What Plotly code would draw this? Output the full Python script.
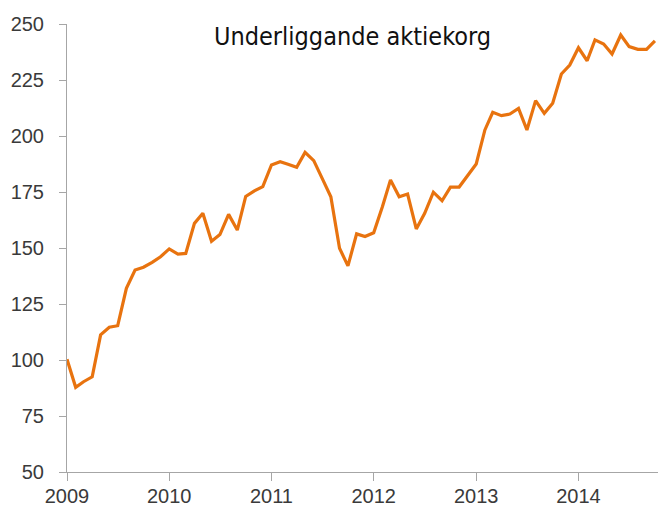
import plotly.graph_objects as go
import pandas as pd

# Monthly index values, Jan 2009 - Oct 2014
values = [
    100.3, 87.8, 90.3, 92.5, 111.2, 114.6, 115.3, 132.0, 140.2, 141.4, 143.6, 146.1,   # 2009
    149.6, 147.3, 147.6, 161.0, 165.5, 153.0, 156.0, 165.0, 158.0, 173.0, 175.5, 177.4,  # 2010
    187.1, 188.5, 187.4, 186.0, 192.7, 189.0, 181.1, 172.9, 149.9, 142.0, 156.3, 155.1,  # 2011
    156.8, 168.4, 180.4, 172.9, 174.1, 158.5, 165.5, 174.9, 171.1, 177.2, 177.2, 182.1,  # 2012
    187.5, 202.7, 210.6, 209.1, 209.8, 212.3, 202.7, 215.8, 210.1, 214.6, 227.7, 231.7,  # 2013
    239.4, 233.6, 242.9, 241.1, 236.6, 245.1, 239.9, 238.7, 238.7, 242.5,                # 2014
]
dates = pd.date_range("2009-01-01", periods=len(values), freq="MS")

title_text = "Underliggande aktiekorg"
y_ticks = [50, 75, 100, 125, 150, 175, 200, 225, 250]
x_tick_years = ["2009", "2010", "2011", "2012", "2013", "2014"]

fig = go.Figure()
fig.add_trace(go.Scatter(
    x=dates, y=values, mode="lines",
    line=dict(color="#E8730F", width=3.2),
    hoverinfo="skip", cliponaxis=False,
))

axis_color = "#A6A6A6"
tick_font = dict(family="Liberation Sans", size=20, color="#3A3A3A")

fig.update_layout(
    width=658, height=513,
    margin=dict(l=67, r=0, t=24, b=41, autoexpand=False),
    paper_bgcolor="white", plot_bgcolor="white",
    showlegend=False,
    xaxis=dict(
        type="date",
        range=["2009-01-01", "2014-10-12"],
        tickvals=[f"{y}-01-01" for y in x_tick_years],
        ticktext=x_tick_years,
        showgrid=False, zeroline=False,
        showline=True, linecolor=axis_color, linewidth=1,
        ticks="outside", ticklen=8, tickcolor=axis_color, tickwidth=1,
        tickfont=tick_font, automargin=False,
        ticklabelstandoff=-2,
    ),
    yaxis=dict(
        range=[50, 250],
        tickvals=y_ticks,
        showgrid=False, zeroline=False,
        showline=True, linecolor=axis_color, linewidth=1,
        ticks="outside", ticklen=7, tickcolor=axis_color, tickwidth=1,
        tickfont=tick_font, automargin=False,
        ticklabelstandoff=11,
    ),
    annotations=[dict(
        text=title_text, xref="paper", yref="paper",
        x=(352 - 67) / 591, y=1 - (37 - 24) / 448,
        xanchor="center", yanchor="middle", showarrow=False,
        font=dict(family="DejaVu Sans Condensed", size=25, color="#111111"),
    )],
)

fig.write_html("out.html",
               config={"displayModeBar": False, "staticPlot": True},
               post_script="document.body.style.margin='0';document.body.style.overflow='hidden';")
